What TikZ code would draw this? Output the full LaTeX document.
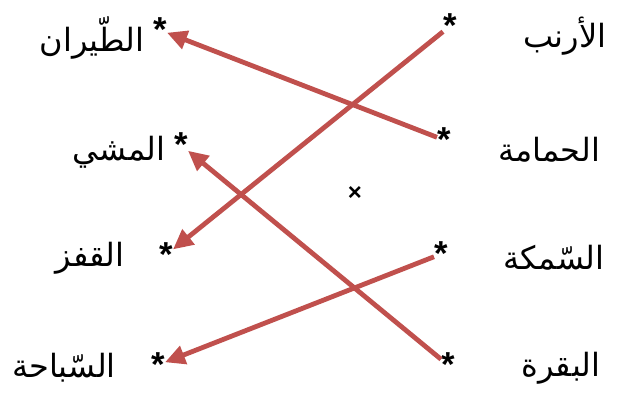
\documentclass[tikz,border=0pt]{standalone}
\usepackage{fontspec}
\setmainfont{Liberation Sans}
\newfontfamily\arabicfont[Script=Arabic]{DejaVu Sans}
\TeXXeTstate=1
\usetikzlibrary{arrows.meta}
\definecolor{linkred}{HTML}{C0504D}
\tikzset{
  word/.style={font=\arabicfont\fontsize{24}{28}\selectfont, inner sep=0pt},
  starnode/.style={font=\bfseries\fontsize{26}{28}\selectfont, inner sep=0pt},
  link/.style={draw=linkred, line width=3.6pt, -{Triangle[length=15pt,width=14pt]}},
}
\begin{document}
\begin{tikzpicture}[x=0.75pt,y=-0.75pt]
\useasboundingbox (0,0) rectangle (624,394);
% left column
\node[word] (wFly) at (92,38) {\beginR الطّيران\endR};
\node[word] (wWalk) at (119,152) {\beginR المشي\endR};
\node[word] (wJump) at (90,258) {\beginR القفز\endR};
\node[word] (wSwim) at (64,368) {\beginR السّباحة\endR};
\node[starnode] (sFly) at (160,30) {*};
\node[starnode] (sWalk) at (181,145) {*};
\node[starnode] (sJump) at (166,255) {*};
\node[starnode] (sSwim) at (158,365) {*};
% right column
\node[word] (wRabbit) at (565,36) {\beginR الأرنب\endR};
\node[word] (wDove) at (549,150) {\beginR الحمامة\endR};
\node[word] (wFish) at (554,258) {\beginR السّمكة\endR};
\node[word] (wCow) at (561,368) {\beginR البقرة\endR};
\node[starnode] (sRabbit) at (450,26) {*};
\node[starnode] (sDove) at (444,140) {*};
\node[starnode] (sFish) at (441,254) {*};
\node[starnode] (sCow) at (448,365) {*};
\node[font=\bfseries\fontsize{18}{20}\selectfont, inner sep=0pt] (cross) at (355,193) {×};
% links
\draw[link] (sRabbit) -- (sJump);
\draw[link] (sDove) -- (sFly);
\draw[link] (sFish) -- (sSwim);
\draw[link] (sCow) -- (sWalk);
\end{tikzpicture}
\end{document}
